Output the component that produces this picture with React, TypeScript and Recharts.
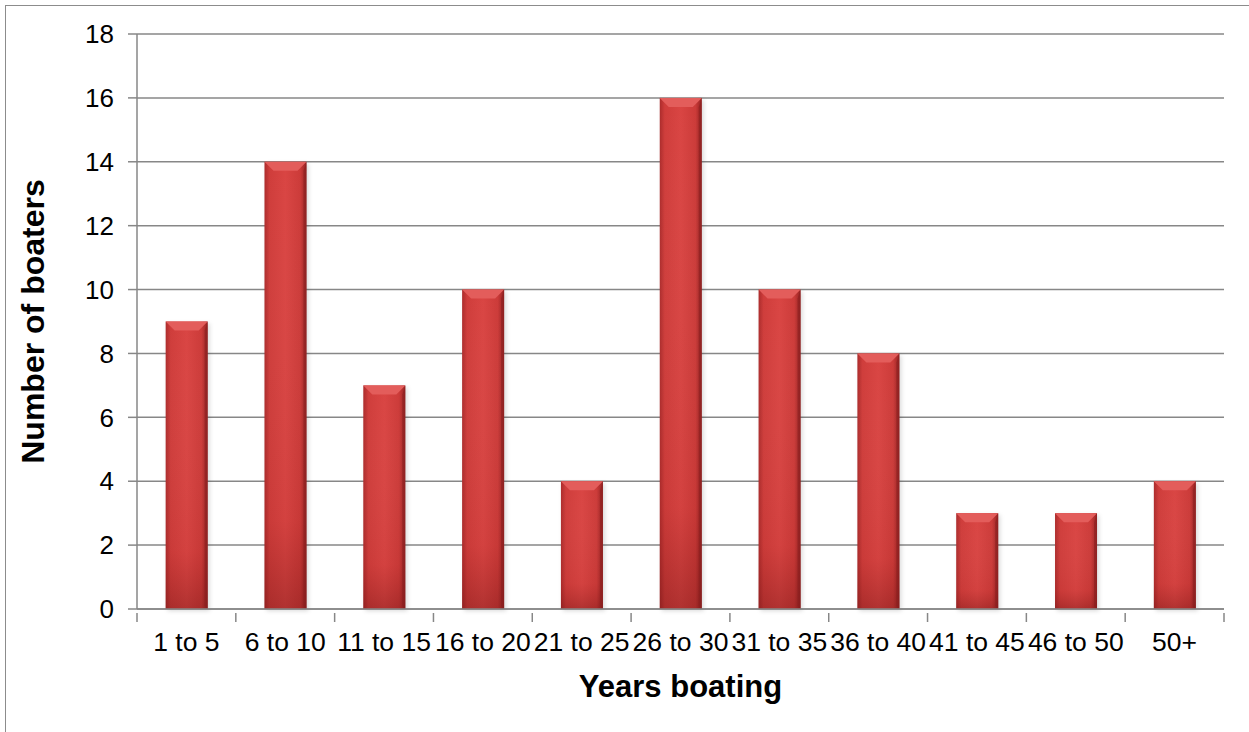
import React from "react";
import { BarChart, Bar, XAxis, YAxis, CartesianGrid } from "recharts";

const categories = ["1 to 5", "6 to 10", "11 to 15", "16 to 20", "21 to 25", "26 to 30", "31 to 35", "36 to 40", "41 to 45", "46 to 50", "50+"];
const boaters = [9, 14, 7, 10, 4, 16, 10, 8, 3, 3, 4];
const yTicks = [0, 2, 4, 6, 8, 10, 12, 14, 16, 18];

const data = categories.map((c, i) => ({ name: c, value: boaters[i] }));

const FONT = "Arial, 'Liberation Sans', sans-serif";
const AXIS_GRAY = "#878787";
const BAND = (1249 - 137 - 25) / categories.length;

function BevelBar(props: any) {
  const { x, y, width, height } = props;
  if (!height || height <= 0) return null;
  const b = Math.min(9, width / 4, height / 2);
  return (
    <g>
      <rect x={x + 2} y={y + 2} width={width} height={height} fill="rgba(0,0,0,0.14)" filter="url(#barShadow)" />
      <rect x={x} y={y} width={width} height={height} fill="url(#barH)" />
      <rect x={x} y={y} width={width} height={height} fill="url(#barV)" />
      <polygon points={`${x},${y} ${x + width},${y} ${x + width - b},${y + b} ${x + b},${y + b}`} fill="#e35d5b" />
      <polygon points={`${x + width},${y} ${x + width},${y + height} ${x + width - 3},${y + height - 3} ${x + width - 3},${y + b}`} fill="#8a1f1f" opacity={0.6} />
    </g>
  );
}

function XTick(props: any) {
  const { x, y, payload, index } = props;
  const half = BAND / 2;
  const axisY = y - 4;
  return (
    <g>
      <line x1={x - half} y1={axisY} x2={x - half} y2={axisY + 9} stroke={AXIS_GRAY} strokeWidth={1.5} />
      {index === categories.length - 1 && (
        <line x1={x + half} y1={axisY} x2={x + half} y2={axisY + 9} stroke={AXIS_GRAY} strokeWidth={1.5} />
      )}
      <text x={x} y={axisY + 38} textAnchor="middle" fontSize={26.5} fill="#000" fontFamily={FONT}>
        {payload.value}
      </text>
    </g>
  );
}

function YTitle(props: any) {
  const { viewBox } = props;
  const cx = 33;
  const cy = viewBox.y + viewBox.height / 2;
  return (
    <text x={cx} y={cy} transform={`rotate(-90, ${cx}, ${cy})`} textAnchor="middle" dominantBaseline="central" fontSize={32} fontWeight="bold" fontFamily={FONT} fill="#000">
      Number of boaters
    </text>
  );
}

function XTitle(props: any) {
  const { viewBox } = props;
  const cx = viewBox.x + viewBox.width / 2;
  return (
    <text x={cx} y={697} textAnchor="middle" fontSize={31} fontWeight="bold" fontFamily={FONT} fill="#000">
      Years boating
    </text>
  );
}

export default function App() {
  return (
    <div style={{ position: "absolute", left: 0, top: 0, width: 1249, height: 732, overflow: "hidden", background: "#fff" }}>
      <div style={{ position: "absolute", left: 5, top: 5, width: 1300, height: 800, border: "1.5px solid #8c8c8c", boxSizing: "border-box" }} />
      <div style={{ position: "absolute", left: 0, top: 0 }}>
        <BarChart width={1249} height={732} data={data} margin={{ top: 34, right: 25, left: 0, bottom: 0 }} barCategoryGap="29%">
          <defs>
            <linearGradient id="barH" x1="0" y1="0" x2="1" y2="0">
              <stop offset="0%" stopColor="#ac2c2c" />
              <stop offset="12%" stopColor="#cf3d3b" />
              <stop offset="50%" stopColor="#d94543" />
              <stop offset="85%" stopColor="#cc3b39" />
              <stop offset="100%" stopColor="#962323" />
            </linearGradient>
            <linearGradient id="barV" x1="0" y1="0" x2="0" y2="1">
              <stop offset="0%" stopColor="#ffffff" stopOpacity={0} />
              <stop offset="80%" stopColor="#7a1010" stopOpacity={0.06} />
              <stop offset="100%" stopColor="#5a0a0a" stopOpacity={0.32} />
            </linearGradient>
            <filter id="barShadow" x="-20%" y="-5%" width="140%" height="110%">
              <feGaussianBlur stdDeviation="2" />
            </filter>
          </defs>
          <CartesianGrid vertical={false} stroke={AXIS_GRAY} strokeWidth={1.5} />
          <XAxis
            dataKey="name"
            height={123}
            interval={0}
            axisLine={{ stroke: AXIS_GRAY, strokeWidth: 1.5 }}
            tickLine={false}
            tick={<XTick />}
            label={<XTitle />}
          />
          <YAxis
            width={137}
            domain={[0, 18]}
            ticks={yTicks}
            interval={0}
            axisLine={{ stroke: AXIS_GRAY, strokeWidth: 1.5 }}
            tickLine={{ stroke: AXIS_GRAY, strokeWidth: 1.5 }}
            tickSize={9}
            tickMargin={14}
            tick={{ fill: "#000", fontSize: 26, fontFamily: FONT }}
            label={<YTitle />}
          />
          <Bar dataKey="value" shape={<BevelBar />} isAnimationActive={false} />
        </BarChart>
      </div>
    </div>
  );
}
